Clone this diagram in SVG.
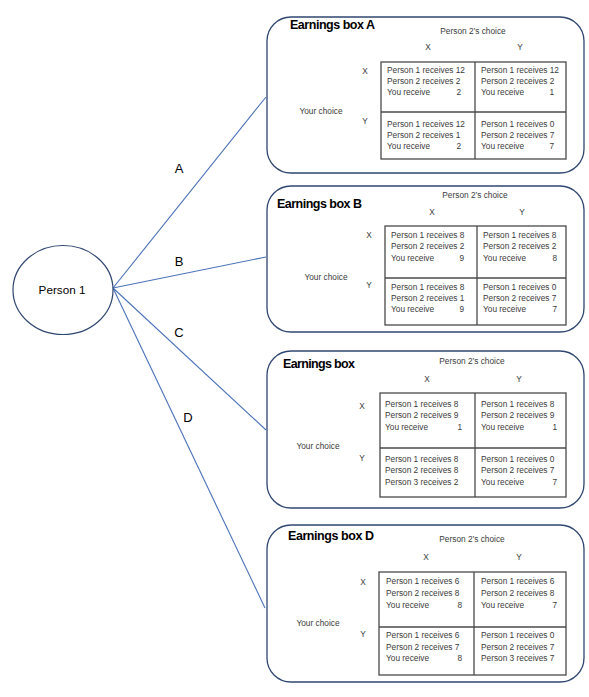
<svg xmlns="http://www.w3.org/2000/svg" width="589" height="697" viewBox="0 0 589 697">
<style>
text{font-family:"Liberation Sans",Arial,sans-serif;}
.box{fill:#fff;stroke:#2f4670;stroke-width:1.3;}
.grid{fill:none;stroke:#4a4a4a;stroke-width:1.3;}
.title{font-size:12.5px;font-weight:bold;fill:#000;}
.s{font-size:8.3px;fill:#3a3a3a;}
.m{text-anchor:middle;}
.e{text-anchor:end;}
.lbl{font-size:13px;fill:#000;text-anchor:middle;}
.conn{stroke:#4a72b8;stroke-width:1.1;fill:none;}
</style>
<rect width="589" height="697" fill="#fff"/>
<g id="connectors">
<line class="conn" x1="113" y1="288" x2="266" y2="97"/>
<line class="conn" x1="113" y1="288" x2="266" y2="257"/>
<line class="conn" x1="113" y1="288" x2="266" y2="430"/>
<line class="conn" x1="113" y1="288" x2="265" y2="608"/>
<text class="lbl" x="179" y="173">A</text>
<text class="lbl" x="179" y="266">B</text>
<text class="lbl" x="179" y="337">C</text>
<text class="lbl" x="188" y="422">D</text>
</g>
<g id="person1">
<ellipse cx="63" cy="290" rx="50" ry="44.5" fill="#fff" stroke="#2f4670" stroke-width="1.2"/>
<text x="62" y="294" font-size="11.7" text-anchor="middle" fill="#000">Person 1</text>
</g>
<g id="boxA">
<rect class="box" x="267" y="17" width="317" height="156" rx="24"/>
<text class="title" x="290" y="29" textLength="85">Earnings box A</text>
<text class="s m" x="473" y="33.5">Person 2’s choice</text>
<text class="s m" x="428" y="49.5">X</text>
<text class="s m" x="520" y="49.5">Y</text>
<text class="s m" x="365" y="74">X</text>
<text class="s m" x="365" y="124">Y</text>
<text class="s m" x="321" y="114">Your choice</text>
<rect class="grid" x="381" y="62" width="185" height="97"/>
<line class="grid" x1="381" y1="112" x2="566" y2="112"/>
<line class="grid" x1="475" y1="62" x2="475" y2="159"/>
<text class="s" x="387" y="73">Person 1 receives 12</text>
<text class="s" x="387" y="84">Person 2 receives 2</text>
<text class="s" x="387" y="95">You receive</text><text class="s e" x="461" y="95">2</text>
<text class="s" x="481" y="73">Person 1 receives 12</text>
<text class="s" x="481" y="84">Person 2 receives 2</text>
<text class="s" x="481" y="95">You receive</text><text class="s e" x="554" y="95">1</text>
<text class="s" x="387" y="126.5">Person 1 receives 12</text>
<text class="s" x="387" y="137.5">Person 2 receives 1</text>
<text class="s" x="387" y="148.5">You receive</text><text class="s e" x="461" y="148.5">2</text>
<text class="s" x="481" y="126.5">Person 1 receives 0</text>
<text class="s" x="481" y="137.5">Person 2 receives 7</text>
<text class="s" x="481" y="148.5">You receive</text><text class="s e" x="554" y="148.5">7</text>
</g>
<g id="boxB">
<rect class="box" x="267" y="186" width="317" height="146" rx="24"/>
<text class="title" x="277" y="208" textLength="85">Earnings box B</text>
<text class="s m" x="475" y="198">Person 2’s choice</text>
<text class="s m" x="432" y="215">X</text>
<text class="s m" x="522" y="215">Y</text>
<text class="s m" x="369" y="238">X</text>
<text class="s m" x="369" y="288">Y</text>
<text class="s m" x="326" y="280">Your choice</text>
<rect class="grid" x="385" y="226" width="181" height="99"/>
<line class="grid" x1="385" y1="278" x2="566" y2="278"/>
<line class="grid" x1="477" y1="226" x2="477" y2="325"/>
<text class="s" x="391" y="238">Person 1 receives 8</text>
<text class="s" x="391" y="249">Person 2 receives 2</text>
<text class="s" x="391" y="260.5">You receive</text><text class="s e" x="464" y="260.5">9</text>
<text class="s" x="483" y="238">Person 1 receives 8</text>
<text class="s" x="483" y="249">Person 2 receives 2</text>
<text class="s" x="483" y="260.5">You receive</text><text class="s e" x="557" y="260.5">8</text>
<text class="s" x="391" y="289.5">Person 1 receives 8</text>
<text class="s" x="391" y="301">Person 2 receives 1</text>
<text class="s" x="391" y="312">You receive</text><text class="s e" x="464" y="312">9</text>
<text class="s" x="483" y="289.5">Person 1 receives 0</text>
<text class="s" x="483" y="301">Person 2 receives 7</text>
<text class="s" x="483" y="312">You receive</text><text class="s e" x="557" y="312">7</text>
</g>
<g id="boxC">
<rect class="box" x="267" y="351" width="317" height="157" rx="24"/>
<text class="title" x="283" y="368" textLength="72">Earnings box</text>
<text class="s m" x="472" y="364">Person 2’s choice</text>
<text class="s m" x="427" y="382">X</text>
<text class="s m" x="519" y="382">Y</text>
<text class="s m" x="362" y="409">X</text>
<text class="s m" x="362" y="461">Y</text>
<text class="s m" x="318" y="449">Your choice</text>
<rect class="grid" x="380" y="393" width="186" height="104"/>
<line class="grid" x1="380" y1="448" x2="566" y2="448"/>
<line class="grid" x1="475" y1="393" x2="475" y2="497"/>
<text class="s" x="385" y="407">Person 1 receives 8</text>
<text class="s" x="385" y="418">Person 2 receives 9</text>
<text class="s" x="385" y="429.5">You receive</text><text class="s e" x="462" y="429.5">1</text>
<text class="s" x="481" y="407">Person 1 receives 8</text>
<text class="s" x="481" y="418">Person 2 receives 9</text>
<text class="s" x="481" y="429.5">You receive</text><text class="s e" x="557" y="429.5">1</text>
<text class="s" x="385" y="462">Person 1 receives 8</text>
<text class="s" x="385" y="473">Person 2 receives 8</text>
<text class="s" x="385" y="484.5">Person 3 receives 2</text>
<text class="s" x="481" y="462">Person 1 receives 0</text>
<text class="s" x="481" y="473">Person 2 receives 7</text>
<text class="s" x="481" y="484.5">You receive</text><text class="s e" x="557" y="484.5">7</text>
</g>
<g id="boxD">
<rect class="box" x="267" y="525" width="317" height="157" rx="24"/>
<text class="title" x="288" y="540" textLength="86">Earnings box D</text>
<text class="s m" x="472" y="542">Person 2’s choice</text>
<text class="s m" x="426" y="560">X</text>
<text class="s m" x="519" y="560">Y</text>
<text class="s m" x="363" y="585">X</text>
<text class="s m" x="363" y="637">Y</text>
<text class="s m" x="318" y="626">Your choice</text>
<rect class="grid" x="379" y="572" width="187" height="103"/>
<line class="grid" x1="379" y1="627" x2="566" y2="627"/>
<line class="grid" x1="474" y1="572" x2="474" y2="675"/>
<text class="s" x="386" y="584">Person 1 receives 6</text>
<text class="s" x="386" y="595.5">Person 2 receives 8</text>
<text class="s" x="386" y="607.5">You receive</text><text class="s e" x="462" y="607.5">8</text>
<text class="s" x="481" y="584">Person 1 receives 6</text>
<text class="s" x="481" y="595.5">Person 2 receives 8</text>
<text class="s" x="481" y="607.5">You receive</text><text class="s e" x="557" y="607.5">7</text>
<text class="s" x="386" y="638">Person 1 receives 6</text>
<text class="s" x="386" y="649.5">Person 2 receives 7</text>
<text class="s" x="386" y="661">You receive</text><text class="s e" x="462" y="661">8</text>
<text class="s" x="481" y="638">Person 1 receives 0</text>
<text class="s" x="481" y="649.5">Person 2 receives 7</text>
<text class="s" x="481" y="661">Person 3 receives 7</text>
</g>
</svg>
